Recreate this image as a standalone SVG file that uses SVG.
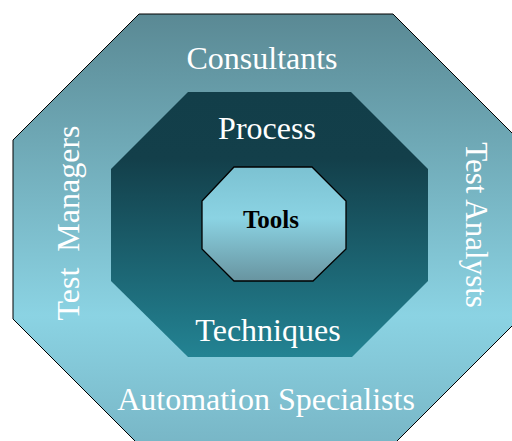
<svg xmlns="http://www.w3.org/2000/svg" width="512" height="441" viewBox="0 0 512 441">
<style>
.lbl{font-family:"Liberation Serif","Times New Roman",serif;font-size:32px;fill:#ffffff;text-anchor:middle}
.tools{font-family:"Liberation Serif","Times New Roman",serif;font-size:25px;font-weight:bold;fill:#000000;text-anchor:middle}
</style>
<defs>
<linearGradient id="gOuter" gradientUnits="userSpaceOnUse" x1="0" y1="14" x2="0" y2="445">
<stop offset="0" stop-color="#5a8994"/>
<stop offset="0.7" stop-color="#8bd3e3"/>
<stop offset="1" stop-color="#78b6c6"/>
</linearGradient>
<linearGradient id="gMid" gradientUnits="userSpaceOnUse" x1="0" y1="92" x2="0" y2="357">
<stop offset="0" stop-color="#123e49"/>
<stop offset="0.25" stop-color="#133f4a"/>
<stop offset="1" stop-color="#238393"/>
</linearGradient>
<linearGradient id="gIn" gradientUnits="userSpaceOnUse" x1="0" y1="167" x2="0" y2="281">
<stop offset="0" stop-color="#7cc2d2"/>
<stop offset="0.45" stop-color="#8bd3e3"/>
<stop offset="1" stop-color="#6894a0"/>
</linearGradient>
</defs>
<g id="outer">
<polygon points="139,14 393,14 519,140 519,319 393,445 139,445 13,319 13,140" fill="url(#gOuter)" stroke="#000" stroke-width="1"/>
<text class="lbl" x="262" y="69">Consultants</text>
<text class="lbl" x="266" y="410">Automation Specialists</text>
<text class="lbl" x="79" y="223" transform="rotate(-90 79 223)" xml:space="preserve">Test  Managers</text>
<text class="lbl" x="466" y="225" transform="rotate(90 466 225)" style="font-size:31px">Test Analysts</text>
</g>
<g id="middle">
<polygon points="188,92 351,92 428,169 428,281 352,357 188,357 111,281 111,169" fill="url(#gMid)"/>
<text class="lbl" x="267" y="139">Process</text>
<text class="lbl" x="268" y="341">Techniques</text>
</g>
<g id="inner">
<polygon points="234,167 312,167 346,201 346,249 313,281 234,281 202,249 202,201" fill="url(#gIn)" stroke="#000" stroke-width="1.3"/>
<text class="tools" x="271" y="228">Tools</text>
</g>
<g id="connectors"/>
</svg>
